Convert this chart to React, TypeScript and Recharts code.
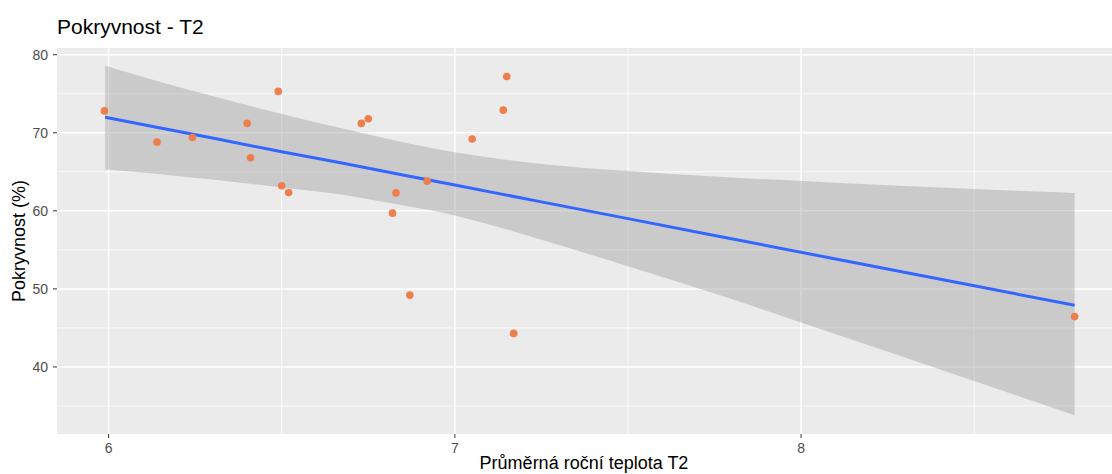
import React from 'react';
import {
  ComposedChart,
  Area,
  Line,
  Scatter,
  XAxis,
  YAxis,
  CartesianGrid,
} from 'recharts';

// observed values
const tempX = [5.988, 6.14, 6.242, 6.4, 6.41, 6.49, 6.5, 6.52, 6.73, 6.75, 6.83, 6.82, 6.92, 7.05, 7.14, 7.15, 6.87, 7.17, 8.79];
const coverY = [72.8, 68.8, 69.4, 71.2, 66.8, 75.3, 63.2, 62.35, 71.2, 71.8, 62.3, 59.7, 63.8, 69.2, 72.9, 77.2, 49.2, 44.3, 46.45];

// regression line + confidence band
const bandX = [5.99, 6.15, 6.3, 6.5, 6.67, 6.85, 7.0, 7.12, 7.25, 7.5, 7.75, 8.1, 8.5, 8.79];
const fitY = [72.0, 70.62, 69.33, 67.56, 66.15, 64.6, 63.31, 62.27, 61.15, 59.0, 56.85, 53.83, 50.39, 47.9];
const bandLow = [65.3, 64.7, 64.0, 63.0, 62.1, 60.7, 59.4, 58.0, 56.3, 52.9, 49.4, 44.2, 38.2, 33.8];
const bandHigh = [78.6, 76.5, 74.7, 72.4, 70.6, 68.8, 67.5, 66.7, 66.0, 65.1, 64.4, 63.6, 62.8, 62.3];

const xTicks = [6, 7, 8];
const yTicks = [40, 50, 60, 70, 80];
const xMinor = [6.5, 7.5, 8.5];
const yMinor = [35, 45, 55, 65, 75];

const points = tempX.map((x, i) => ({ x, y: coverY[i] }));
const smooth = bandX.map((x, i) => ({ x, fit: fitY[i], band: [bandLow[i], bandHigh[i]] }));

const FONT = '"Liberation Sans", Arial, Helvetica, sans-serif';

const Dot = (props: any) => <circle cx={props.cx} cy={props.cy} r={3.8} fill="#F07E4C" />;

const App: React.FC = () => {
  return (
    <div style={{ position: 'absolute', left: 0, top: 0, width: 1112, height: 474, background: '#fff', fontFamily: FONT }}>
      <div style={{ position: 'absolute', left: 57, top: 16, fontSize: 21, lineHeight: 1, color: '#000' }}>
        Pokryvnost - T2
      </div>
      <ComposedChart
        width={1112}
        height={474}
        data={smooth}
        margin={{ top: 48, right: 0, left: 0, bottom: 0 }}
      >
        <CartesianGrid
          fill="#EBEBEB"
          stroke="#FFFFFF"
          strokeWidth={0.8}
          horizontalValues={yMinor}
          verticalValues={xMinor}
        />
        <CartesianGrid
          stroke="#FFFFFF"
          strokeWidth={1.5}
          horizontalValues={yTicks}
          verticalValues={xTicks}
        />
        <XAxis
          dataKey="x"
          type="number"
          domain={[5.851, 8.898]}
          ticks={xTicks}
          allowDataOverflow
          height={40}
          axisLine={false}
          tickSize={4}
          tickMargin={5}
          tickLine={{ stroke: '#333333' }}
          tick={{ fill: '#4D4D4D', fontSize: 14, fontFamily: FONT }}
        />
        <YAxis
          type="number"
          domain={[31.41, 80.86]}
          ticks={yTicks}
          allowDataOverflow
          width={57}
          axisLine={false}
          tickSize={4}
          tickMargin={5}
          tickLine={{ stroke: '#333333' }}
          tick={{ fill: '#4D4D4D', fontSize: 14, fontFamily: FONT }}
        />
        <Area
          type="monotone"
          dataKey="band"
          stroke="none"
          fill="#999999"
          fillOpacity={0.4}
          isAnimationActive={false}
        />
        <Line
          type="linear"
          dataKey="fit"
          stroke="#3366FF"
          strokeWidth={3}
          dot={false}
          activeDot={false}
          isAnimationActive={false}
        />
        <Scatter data={points} dataKey="y" shape={Dot} isAnimationActive={false} />
      </ComposedChart>
      <div
        style={{
          position: 'absolute',
          left: 18.5 - 100,
          top: 240.5 - 9,
          width: 200,
          height: 18,
          fontSize: 18,
          lineHeight: '18px',
          textAlign: 'center',
          transform: 'rotate(-90deg)',
          color: '#000',
        }}
      >
        Pokryvnost (%)
      </div>
      <div
        style={{
          position: 'absolute',
          left: 584 - 200,
          top: 454,
          width: 400,
          fontSize: 18,
          lineHeight: 1,
          textAlign: 'center',
          color: '#000',
        }}
      >
        Průměrná roční teplota T2
      </div>
    </div>
  );
};

export default App;
